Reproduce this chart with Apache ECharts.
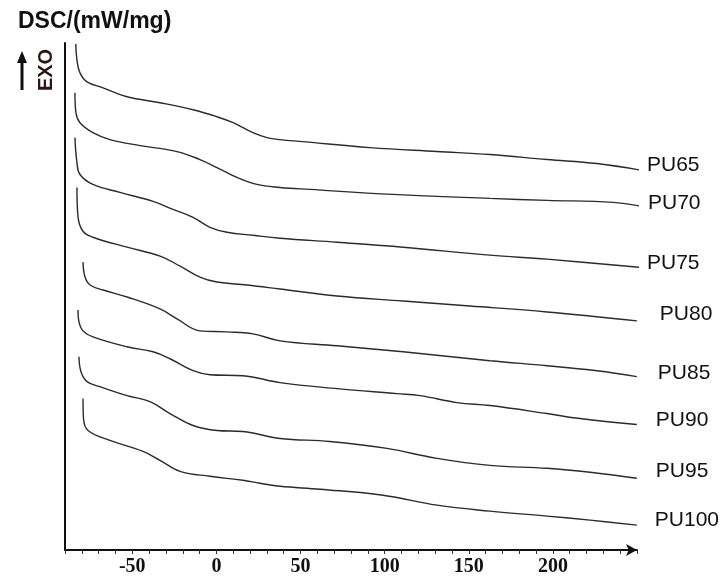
<!DOCTYPE html>
<html>
<head>
<meta charset="utf-8">
<script src="https://cdn.jsdelivr.net/npm/echarts@6/dist/echarts.min.js"></script>
<style>
  html, body { margin: 0; padding: 0; background: #fff; }
  #chart { width: 722px; height: 577px; }
</style>
</head>
<body>
<div id="chart"></div>
<script>
// 曲线名称（从上到下）
const seriesNames = ['PU65', 'PU70', 'PU75', 'PU80', 'PU85', 'PU90', 'PU95', 'PU100'];

// [温度/℃, 热流（相对偏移，无刻度）]
const pu65 = [[-83.6, 508], [-82.9, 492], [-81.1, 479], [-76.9, 470], [-67.4, 464], [-53.1, 455], [-33.5, 449], [-13.9, 442], [0.3, 435], [9.9, 429], [21.7, 419], [30.1, 414], [37.8, 412], [51.5, 410], [91.3, 404], [131.1, 400], [162.6, 397], [196.5, 392], [226.2, 388], [256.5, 380]];
const pu70 = [[-84.1, 459], [-83.5, 439], [-81.1, 429], [-73.4, 419], [-63.3, 412], [-45.4, 406], [-23.4, 400], [-9.8, 392], [0.3, 384], [12.2, 374], [24.1, 367], [37.8, 364], [55.6, 362], [105.0, 357], [162.6, 353], [196.5, 351], [235.7, 349], [255.9, 344]];
const pu75 = [[-84.1, 414], [-82.9, 389], [-81.1, 377], [-73.4, 367], [-57.3, 359], [-37.7, 350], [-25.8, 342], [-13.9, 334], [-3.8, 324], [6.3, 319], [21.7, 316], [37.8, 313], [71.7, 309], [110.9, 304], [162.6, 296], [196.5, 292], [256.5, 283]];
const pu80 = [[-82.9, 364], [-82.3, 335], [-79.3, 320], [-73.4, 314], [-53.1, 304], [-33.5, 295], [-21.6, 285], [-9.8, 274], [0.3, 269], [18.2, 266], [37.8, 262], [71.7, 255], [110.9, 250], [150.7, 245], [196.5, 239], [249.9, 230]];
const pu85 = [[-79.3, 289], [-78.1, 274], [-75.1, 266], [-67.4, 261], [-53.1, 254], [-33.5, 242], [-23.4, 232], [-9.8, 220], [6.3, 219], [21.7, 217], [37.8, 210], [71.7, 205], [110.9, 199], [162.6, 190], [196.5, 185], [226.2, 180], [249.9, 174]];
const pu90 = [[-82.3, 241], [-81.7, 229], [-79.3, 220], [-73.4, 214], [-53.1, 204], [-37.7, 199], [-27.6, 192], [-13.9, 180], [-3.8, 176], [15.8, 175], [37.8, 168], [71.7, 162], [107.3, 157], [121.0, 155], [143.0, 148], [162.6, 145], [196.5, 137], [216.1, 132], [249.9, 126]];
const pu95 = [[-81.7, 194], [-80.5, 179], [-76.9, 169], [-69.2, 164], [-53.1, 155], [-39.5, 149], [-27.6, 137], [-13.9, 125], [0.3, 120], [15.8, 119], [37.8, 112], [67.5, 109], [101.4, 102], [131.1, 92], [162.6, 85], [196.5, 82], [222.1, 78], [249.9, 72]];
const pu100 = [[-79.3, 152], [-79.0, 132], [-76.3, 120], [-63.3, 110], [-43.6, 99], [-33.5, 90], [-21.6, 79], [-3.8, 74], [15.8, 70], [25.9, 67], [37.8, 64], [61.6, 61], [99.0, 55], [131.1, 45], [162.6, 39], [196.5, 34], [222.1, 30], [249.9, 25]];

const curves = [pu65, pu70, pu75, pu80, pu85, pu90, pu95, pu100];

// x 轴刻度标签
const tickLabels = [-50, 0, 50, 100, 150, 200];

// 标签偏移（样式）
const labelOffsets = [[0, -5], [1, -3], [0, -4], [15, -7], [13, -3], [11, -4], [11, -7], [10, -5]];

const chart = echarts.init(document.getElementById('chart'));

const series = curves.map((data, i) => ({
  name: seriesNames[i],
  type: 'line',
  data,
  clip: false,
  smooth: 0.4,
  showSymbol: false,
  silent: true,
  lineStyle: { color: '#2b2b2b', width: 1.4 },
  endLabel: {
    show: true,
    formatter: seriesNames[i],
    offset: labelOffsets[i],
    fontFamily: 'Liberation Sans',
    fontSize: 21,
    color: '#111',
  },
}));

chart.setOption({
  animation: false,
  title: {
    text: 'DSC/(mW/mg)',
    left: 13,
    top: 5,
    textStyle: {
      fontFamily: 'Liberation Sans',
      fontWeight: 'bold',
      fontSize: 23,
      color: '#111',
    },
  },
  grid: {
    left: 65,
    right: 85,
    top: 43,
    bottom: 25,
  },
  xAxis: {
    type: 'value',
    min: -90,
    max: 250,
    interval: 10,
    axisLine: {
      show: true,
      onZero: false,
      symbol: ['none', 'arrow'],
      symbolSize: [9, 11],
      lineStyle: { color: '#111', width: 2 },
    },
    axisTick: {
      show: true,
      length: 4,
      lineStyle: { color: '#333', width: 1 },
    },
    axisLabel: {
      margin: 7,
      fontFamily: 'Liberation Serif',
      fontWeight: 'bold',
      fontSize: 20,
      color: '#111',
      formatter(value) {
        return tickLabels.indexOf(value) >= 0 ? String(value) : '';
      },
    },
    splitLine: { show: false },
  },
  yAxis: {
    type: 'value',
    min: 0,
    max: 509,
    axisLine: {
      show: true,
      onZero: false,
      lineStyle: { color: '#111', width: 2 },
    },
    axisTick: { show: false },
    axisLabel: { show: false },
    splitLine: { show: false },
  },
  graphic: [
    { // 向上箭头
      type: 'line',
      shape: { x1: 22, y1: 90, x2: 22, y2: 60 },
      style: { stroke: '#111', lineWidth: 3 },
    },
    {
      type: 'polygon',
      shape: { points: [[17, 63], [27, 63], [22, 51]] },
      style: { fill: '#111' },
    },
    {
      type: 'text',
      x: 46,
      y: 70,
      rotation: Math.PI / 2,
      style: {
        text: 'EXO',
        fontFamily: 'Liberation Sans',
        fontWeight: 'bold',
        fontSize: 20,
        fill: '#2a1616',
        align: 'center',
        verticalAlign: 'middle',
      },
    },
  ],
  series,
});
</script>
</body>
</html>
